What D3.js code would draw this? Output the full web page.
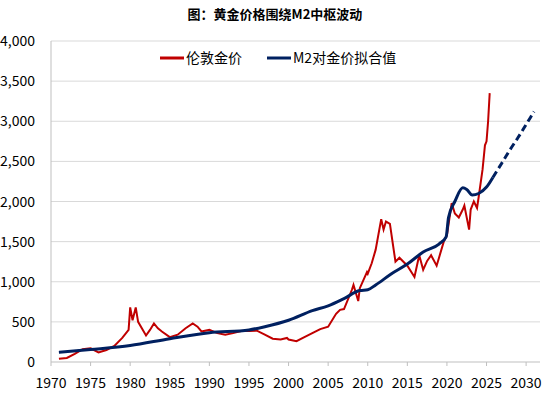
<!DOCTYPE html>
<html><head><meta charset="utf-8">
<script src="https://cdn.jsdelivr.net/npm/d3@7"></script>
<style>body{margin:0;background:#fff}text{font-family:"Liberation Sans Narrow","Noto Sans CJK SC",sans-serif}</style>
</head><body><svg width="550" height="412"></svg>
<script>
const goldYears = [1971,1972,1973,1974,1975,1976,1977,1978,1979,1979.8,1980.0,1980.3,1980.7,1981,1982,1982.5,1983,1983.5,1984,1985,1986,1987,1987.9,1988.5,1989,1990,1991,1992,1993,1994,1995,1996,1997,1998,1999,1999.8,2000,2001,2002,2003,2004,2005,2006,2006.5,2007,2008,2008.2,2008.8,2009,2009.9,2010,2010.5,2011,2011.7,2012,2012.3,2012.8,2013.2,2013.5,2014,2015,2015.9,2016.5,2017,2017.5,2018,2018.7,2019,2019.6,2020,2020.6,2021,2021.5,2022,2022.2,2022.8,2023,2023.4,2023.8,2024,2024.5,2024.8,2025,2025.2,2025.4];
const goldPrice = [40,50,100,160,170,120,150,200,300,400,680,520,680,500,330,400,480,420,380,310,340,420,480,440,380,400,360,340,360,385,385,390,340,290,280,300,280,260,310,360,410,440,600,650,660,900,960,760,920,1120,1100,1230,1400,1780,1650,1750,1720,1450,1250,1300,1200,1060,1330,1150,1260,1330,1200,1300,1500,1580,1980,1850,1800,1900,1950,1650,1900,2000,1920,2050,2400,2700,2750,3000,3350];
const fitYears = [1971,1975,1980,1985,1990,1995,1997,2000,2003,2005,2007,2009,2010,2011,2013,2015,2017,2019,2019.9,2020.2,2021,2022,2022.5,2023.2,2024,2025,2025.8];
const fitValue = [120,155,205,290,365,400,440,520,640,700,790,890,900,960,1100,1220,1370,1470,1560,1800,2000,2170,2150,2080,2100,2180,2300];
const projYears = [2025.8,2027,2028,2029,2030,2031];
const projValue = [2300,2490,2650,2800,2960,3120];
const xTicks = d3.range(1970, 2031, 5);
const yTicks = d3.range(0, 4001, 500);

const svg = d3.select('svg');
const x = d3.scaleLinear().domain([1970, 2031.5]).range([51, 538]);
const y = d3.scaleLinear().domain([0, 4000]).range([362, 41]);

svg.append('text').attr('x', 275).attr('y', 19).attr('text-anchor', 'middle')
  .style('font-size', '13px').style('font-weight', 'bold').text('图：黄金价格围绕M2中枢波动');

svg.append('g').selectAll('line').data(yTicks.slice(1)).enter().append('line')
  .attr('x1', 51).attr('x2', 540).attr('y1', d => y(d)).attr('y2', d => y(d))
  .attr('stroke', '#d9d9d9').attr('stroke-width', 1);
svg.append('line').attr('x1', 51).attr('x2', 51).attr('y1', 41).attr('y2', 362).attr('stroke', '#bfbfbf');
svg.append('line').attr('x1', 51).attr('x2', 540).attr('y1', 362).attr('y2', 362).attr('stroke', '#bfbfbf');
svg.append('g').selectAll('line').data(xTicks).enter().append('line')
  .attr('x1', d => x(d)).attr('x2', d => x(d)).attr('y1', 362).attr('y2', 366).attr('stroke', '#bfbfbf');

svg.append('g').selectAll('text').data(yTicks).enter().append('text')
  .attr('x', 35).attr('y', d => y(d) + 5).attr('text-anchor', 'end')
  .style('font-size', '14px').text(d3.format(','));
svg.append('g').selectAll('text').data(xTicks).enter().append('text')
  .attr('x', d => x(d)).attr('y', 388).attr('text-anchor', 'middle')
  .style('font-size', '14px').text(d => d);

const line = d3.line().x(d => x(d[0])).y(d => y(d[1])).curve(d3.curveMonotoneX);
svg.append('path').datum(d3.zip(goldYears, goldPrice)).attr('d', d3.line().x(d => x(d[0])).y(d => y(d[1])))
  .attr('fill', 'none').attr('stroke', '#c00000').attr('stroke-width', 2);
svg.append('path').datum(d3.zip(fitYears, fitValue)).attr('d', line)
  .attr('fill', 'none').attr('stroke', '#002060').attr('stroke-width', 3);
svg.append('path').datum(d3.zip(projYears, projValue)).attr('d', line)
  .attr('fill', 'none').attr('stroke', '#002060').attr('stroke-width', 3).attr('stroke-dasharray', '7,4');

const legend = [['伦敦金价', '#c00000', 160], ['M2对金价拟合值', '#002060', 267]];
legend.forEach(([name, color, lx]) => {
  svg.append('line').attr('x1', lx).attr('x2', lx + 24).attr('y1', 58).attr('y2', 58).attr('stroke', color).attr('stroke-width', 3);
  svg.append('text').attr('x', lx + 26).attr('y', 63).style('font-size', '14px').text(name);
});
</script></body></html>
